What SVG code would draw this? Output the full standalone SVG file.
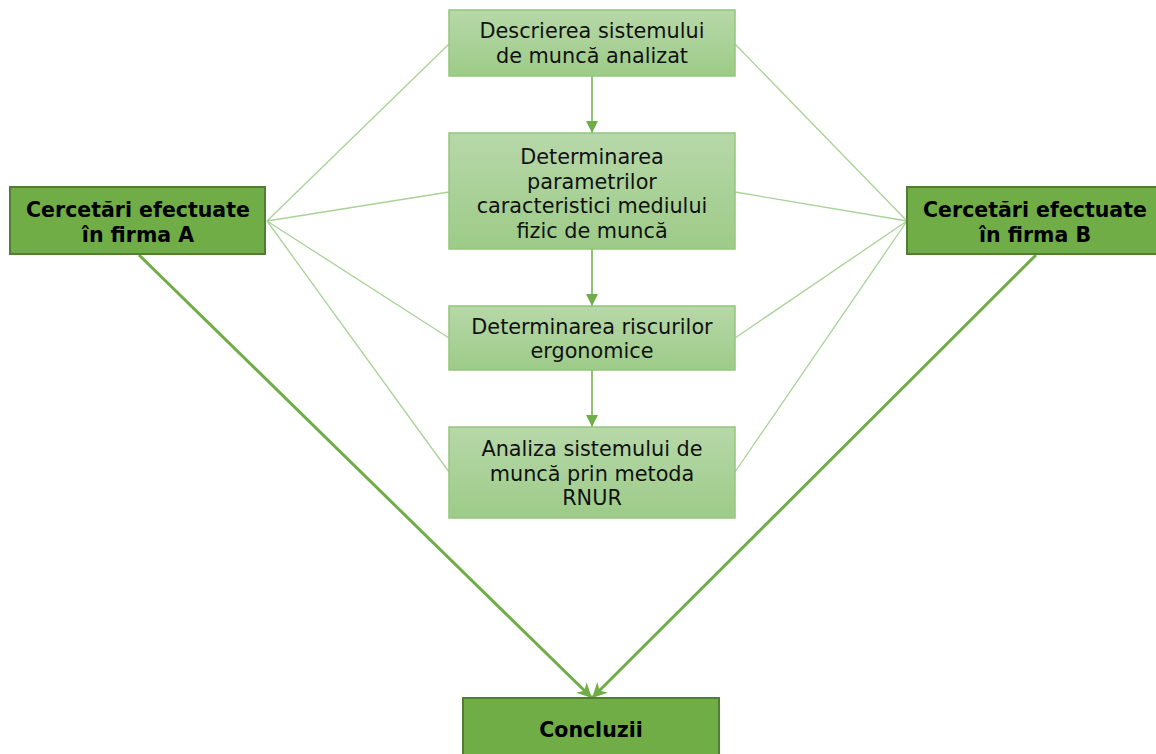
<svg xmlns="http://www.w3.org/2000/svg" width="1156" height="754" viewBox="0 0 1156 754">
  <defs>
    <linearGradient id="stepFill" x1="0" y1="0" x2="0" y2="1">
      <stop offset="0" stop-color="#b7d8a9"/>
      <stop offset="1" stop-color="#9dcb88"/>
    </linearGradient>
    <marker id="arrowSmall" viewBox="0 0 10 10" refX="10" refY="5" markerWidth="12" markerHeight="12" markerUnits="userSpaceOnUse" orient="auto">
      <path d="M0,0 L10,5 L0,10 Z" fill="#6fae46"/>
    </marker>
    <marker id="arrowBig" viewBox="0 0 10 10" refX="10" refY="5" markerWidth="15" markerHeight="15" markerUnits="userSpaceOnUse" orient="auto">
      <path d="M0,0 L10,5 L0,10 L3,5 Z" fill="#70ad47"/>
    </marker>
  </defs>
  <style>
    .step { fill: url(#stepFill); stroke: #94c67c; stroke-width: 1.5; }
    .firm { fill: #70ad47; stroke: #507e32; stroke-width: 2; }
    .stepText { font-family: "DejaVu Sans", Verdana, sans-serif; font-size: 20.8px; fill: #111; text-anchor: middle; }
    .firmText { font-family: "DejaVu Sans", Verdana, sans-serif; font-size: 20.5px; font-weight: bold; fill: #000; text-anchor: middle; }
    .thin { stroke: #a9d296; stroke-width: 1.3; fill: none; }
    .flow { stroke: #6fae46; stroke-width: 1.5; fill: none; }
    .main { stroke: #70ad47; stroke-width: 3; fill: none; }
  </style>

  <!-- connectors -->
  <g id="connectors">
    <line class="thin" x1="267" y1="221" x2="449" y2="44"/>
    <line class="thin" x1="267" y1="221" x2="449" y2="192"/>
    <line class="thin" x1="267" y1="221" x2="449" y2="338"/>
    <line class="thin" x1="267" y1="221" x2="449" y2="472"/>
    <line class="thin" x1="907" y1="221" x2="735" y2="44"/>
    <line class="thin" x1="907" y1="221" x2="735" y2="192"/>
    <line class="thin" x1="907" y1="221" x2="735" y2="338"/>
    <line class="thin" x1="907" y1="221" x2="735" y2="472"/>
    <line class="flow" x1="592" y1="76" x2="592" y2="133" marker-end="url(#arrowSmall)"/>
    <line class="flow" x1="592" y1="249" x2="592" y2="306" marker-end="url(#arrowSmall)"/>
    <line class="flow" x1="592" y1="370" x2="592" y2="427" marker-end="url(#arrowSmall)"/>
    <line class="main" x1="139" y1="255" x2="592" y2="698" marker-end="url(#arrowBig)"/>
    <line class="main" x1="1036" y1="255" x2="592" y2="698" marker-end="url(#arrowBig)"/>
  </g>

  <g id="step1">
    <rect class="step" x="449" y="10" width="286" height="66"/>
    <text class="stepText" x="592" y="38">Descrierea sistemului</text>
    <text class="stepText" x="592" y="63">de muncă analizat</text>
  </g>

  <g id="step2">
    <rect class="step" x="449" y="133" width="286" height="116"/>
    <text class="stepText" x="592" y="164">Determinarea</text>
    <text class="stepText" x="592" y="189">parametrilor</text>
    <text class="stepText" x="592" y="213">caracteristici mediului</text>
    <text class="stepText" x="592" y="238">fizic de muncă</text>
  </g>

  <g id="step3">
    <rect class="step" x="449" y="306" width="286" height="64"/>
    <text class="stepText" x="592" y="334">Determinarea riscurilor</text>
    <text class="stepText" x="592" y="358">ergonomice</text>
  </g>

  <g id="step4">
    <rect class="step" x="449" y="427" width="286" height="91"/>
    <text class="stepText" x="592" y="456">Analiza sistemului de</text>
    <text class="stepText" x="592" y="481">muncă prin metoda</text>
    <text class="stepText" x="592" y="505">RNUR</text>
  </g>

  <g id="firmA">
    <rect class="firm" x="10" y="187" width="255" height="67"/>
    <text class="firmText" x="138" y="217">Cercetări efectuate</text>
    <text class="firmText" x="138" y="242">în firma A</text>
  </g>

  <g id="firmB">
    <rect class="firm" x="907" y="187" width="256" height="67"/>
    <text class="firmText" x="1035" y="217">Cercetări efectuate</text>
    <text class="firmText" x="1035" y="242">în firma B</text>
  </g>

  <g id="conclusions">
    <rect class="firm" x="463" y="698" width="256" height="62"/>
    <text class="firmText" x="591" y="737">Concluzii</text>
  </g>
</svg>
